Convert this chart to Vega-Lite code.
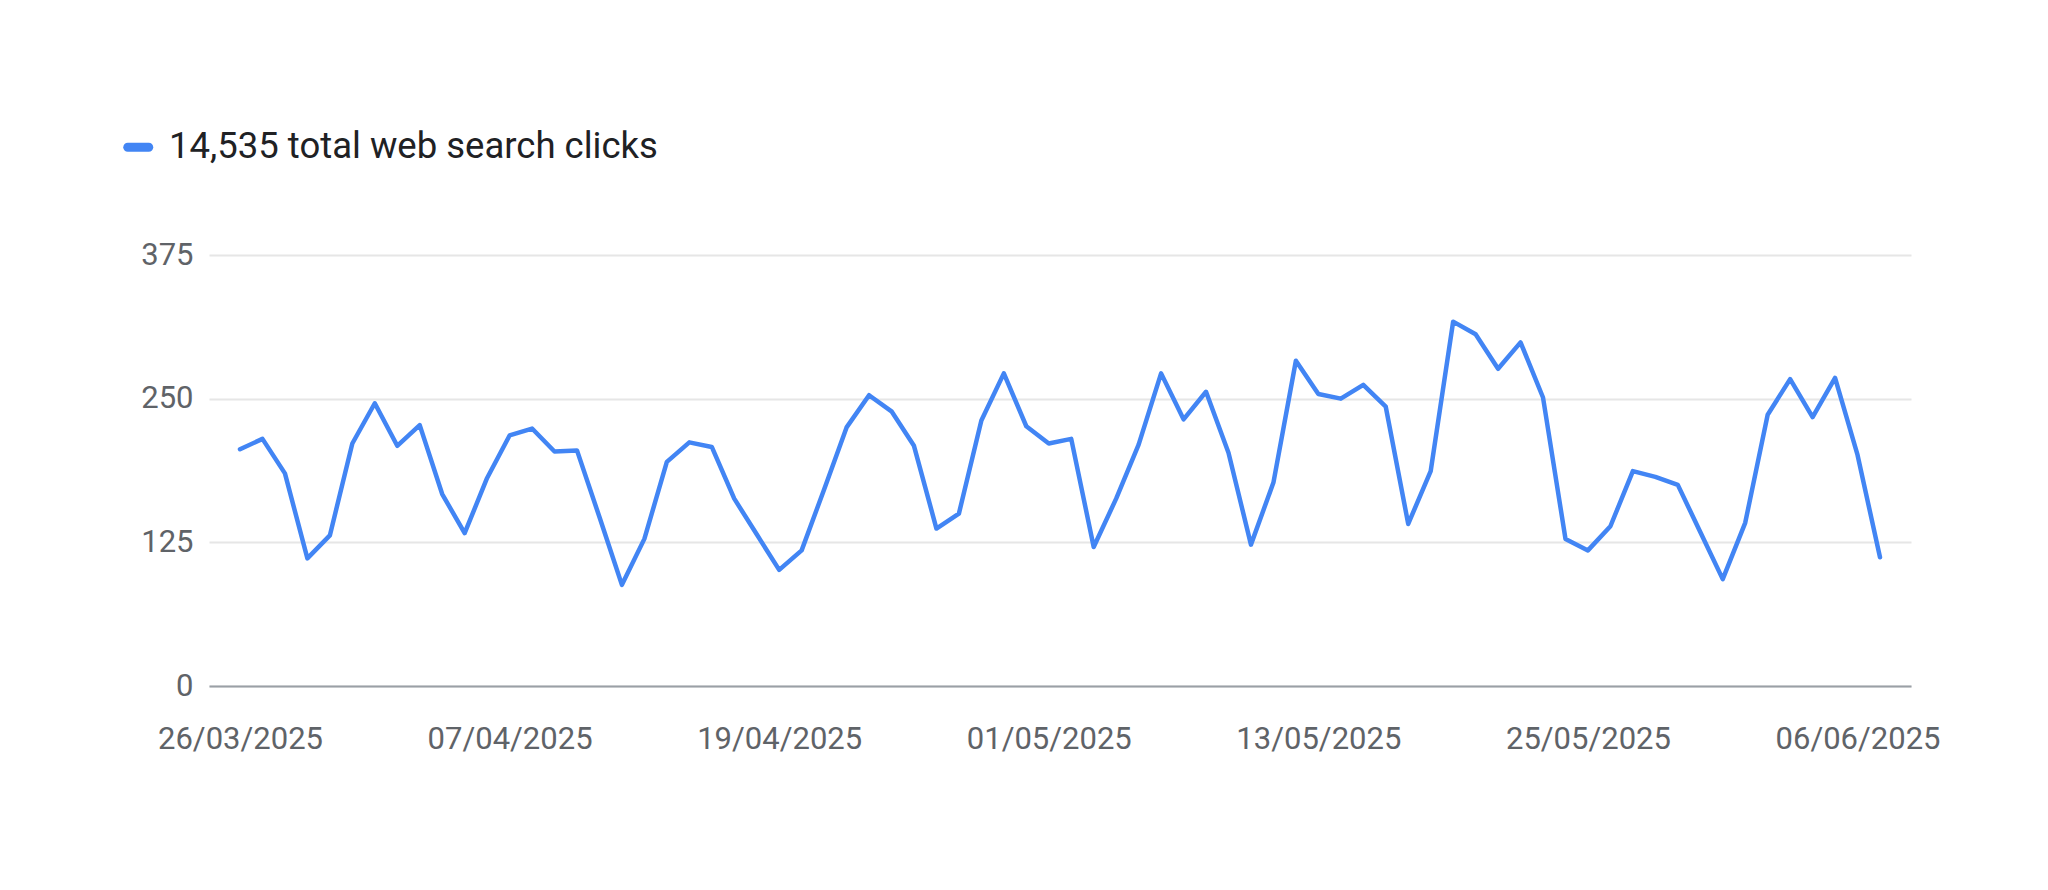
{
  "$schema": "https://vega.github.io/schema/vega-lite/v6.json",
  "autosize": {"type": "none"},
  "width": 1702,
  "height": 431,
  "padding": {"left": 209, "top": 255, "right": 137, "bottom": 204},
  "background": "#ffffff",
  "config": {
    "view": {"stroke": null},
    "font": "Roboto"
  },
  "data": {
    "values": [
      {"date": "2025-03-26", "clicks": 206},
      {"date": "2025-03-27", "clicks": 215},
      {"date": "2025-03-28", "clicks": 185},
      {"date": "2025-03-29", "clicks": 111},
      {"date": "2025-03-30", "clicks": 131},
      {"date": "2025-03-31", "clicks": 211},
      {"date": "2025-04-01", "clicks": 246},
      {"date": "2025-04-02", "clicks": 209},
      {"date": "2025-04-03", "clicks": 227},
      {"date": "2025-04-04", "clicks": 167},
      {"date": "2025-04-05", "clicks": 133},
      {"date": "2025-04-06", "clicks": 181},
      {"date": "2025-04-07", "clicks": 218},
      {"date": "2025-04-08", "clicks": 224},
      {"date": "2025-04-09", "clicks": 204},
      {"date": "2025-04-10", "clicks": 205},
      {"date": "2025-04-11", "clicks": 147},
      {"date": "2025-04-12", "clicks": 88},
      {"date": "2025-04-13", "clicks": 128},
      {"date": "2025-04-14", "clicks": 195},
      {"date": "2025-04-15", "clicks": 212},
      {"date": "2025-04-16", "clicks": 208},
      {"date": "2025-04-17", "clicks": 163},
      {"date": "2025-04-18", "clicks": 132},
      {"date": "2025-04-19", "clicks": 101},
      {"date": "2025-04-20", "clicks": 118},
      {"date": "2025-04-21", "clicks": 171},
      {"date": "2025-04-22", "clicks": 225},
      {"date": "2025-04-23", "clicks": 253},
      {"date": "2025-04-24", "clicks": 239},
      {"date": "2025-04-25", "clicks": 209},
      {"date": "2025-04-26", "clicks": 137},
      {"date": "2025-04-27", "clicks": 150},
      {"date": "2025-04-28", "clicks": 231},
      {"date": "2025-04-29", "clicks": 272},
      {"date": "2025-04-30", "clicks": 226},
      {"date": "2025-05-01", "clicks": 211},
      {"date": "2025-05-02", "clicks": 215},
      {"date": "2025-05-03", "clicks": 121},
      {"date": "2025-05-04", "clicks": 163},
      {"date": "2025-05-05", "clicks": 210},
      {"date": "2025-05-06", "clicks": 272},
      {"date": "2025-05-07", "clicks": 232},
      {"date": "2025-05-08", "clicks": 256},
      {"date": "2025-05-09", "clicks": 203},
      {"date": "2025-05-10", "clicks": 123},
      {"date": "2025-05-11", "clicks": 177},
      {"date": "2025-05-12", "clicks": 283},
      {"date": "2025-05-13", "clicks": 254},
      {"date": "2025-05-14", "clicks": 250},
      {"date": "2025-05-15", "clicks": 262},
      {"date": "2025-05-16", "clicks": 243},
      {"date": "2025-05-17", "clicks": 141},
      {"date": "2025-05-18", "clicks": 187},
      {"date": "2025-05-19", "clicks": 317},
      {"date": "2025-05-20", "clicks": 306},
      {"date": "2025-05-21", "clicks": 276},
      {"date": "2025-05-22", "clicks": 299},
      {"date": "2025-05-23", "clicks": 251},
      {"date": "2025-05-24", "clicks": 128},
      {"date": "2025-05-25", "clicks": 118},
      {"date": "2025-05-26", "clicks": 139},
      {"date": "2025-05-27", "clicks": 187},
      {"date": "2025-05-28", "clicks": 182},
      {"date": "2025-05-29", "clicks": 175},
      {"date": "2025-05-30", "clicks": 134},
      {"date": "2025-05-31", "clicks": 93},
      {"date": "2025-06-01", "clicks": 142},
      {"date": "2025-06-02", "clicks": 236},
      {"date": "2025-06-03", "clicks": 267},
      {"date": "2025-06-04", "clicks": 234},
      {"date": "2025-06-05", "clicks": 268},
      {"date": "2025-06-06", "clicks": 201},
      {"date": "2025-06-07", "clicks": 112}
    ]
  },
  "mark": {"type": "line", "strokeWidth": 4.5, "color": "#4285F4", "strokeJoin": "round", "strokeCap": "round"},
  "encoding": {
    "x": {
      "field": "date",
      "type": "temporal",
      "scale": {
        "type": "utc",
        "domain": [
          {"year": 2025, "month": 3, "date": 24, "hours": 14, "minutes": 53, "utc": true},
          {"year": 2025, "month": 6, "date": 8, "hours": 9, "minutes": 7, "utc": true}
        ]
      },
      "axis": {
        "title": null,
        "grid": false,
        "ticks": false,
        "domain": true,
        "domainColor": "#9aa0a6",
        "domainWidth": 2,
        "values": [
          {"year": 2025, "month": 3, "date": 26, "utc": true},
          {"year": 2025, "month": 4, "date": 7, "utc": true},
          {"year": 2025, "month": 4, "date": 19, "utc": true},
          {"year": 2025, "month": 5, "date": 1, "utc": true},
          {"year": 2025, "month": 5, "date": 13, "utc": true},
          {"year": 2025, "month": 5, "date": 25, "utc": true},
          {"year": 2025, "month": 6, "date": 6, "utc": true}
        ],
        "labelExpr": "utcFormat(datum.value, '%d/%m/%Y')",
        "labelFont": "Roboto",
        "labelFontSize": 31,
        "labelColor": "#5f6368",
        "labelPadding": 38,
        "labelFlush": false,
        "labelOverlap": false
      }
    },
    "y": {
      "field": "clicks",
      "type": "quantitative",
      "scale": {"domain": [0, 375], "nice": false, "zero": true},
      "axis": {
        "title": null,
        "values": [0, 125, 250, 375],
        "grid": true,
        "gridColor": "#e6e6e6",
        "gridWidth": 2,
        "domain": false,
        "ticks": false,
        "labelFont": "Roboto",
        "labelFontSize": 31,
        "labelColor": "#5f6368",
        "labelPadding": 16
      }
    },
    "color": {
      "datum": "14,535 total web search clicks",
      "type": "nominal",
      "scale": {"range": ["#4285F4"]},
      "legend": {
        "title": null,
        "orient": "none",
        "legendX": -89,
        "legendY": -126,
        "padding": 0,
        "symbolType": "M-0.7,-0.3L0.7,-0.3A0.3,0.3,0,0,1,0.7,0.3L-0.7,0.3A0.3,0.3,0,0,1,-0.7,-0.3Z",
        "symbolSize": 900,
        "symbolFillColor": "#4285F4",
        "symbolStrokeColor": "#4285F4",
        "symbolStrokeWidth": 0,
        "labelFont": "Roboto",
        "labelFontSize": 36.5,
        "labelColor": "#202124",
        "labelOffset": 12.5,
        "labelLimit": 1000,
        "encode": {
          "symbols": {"update": {"fill": {"value": "#4285F4"}, "stroke": {"value": "#4285F4"}, "strokeWidth": {"value": 0}}}
        }
      }
    }
  }
}
